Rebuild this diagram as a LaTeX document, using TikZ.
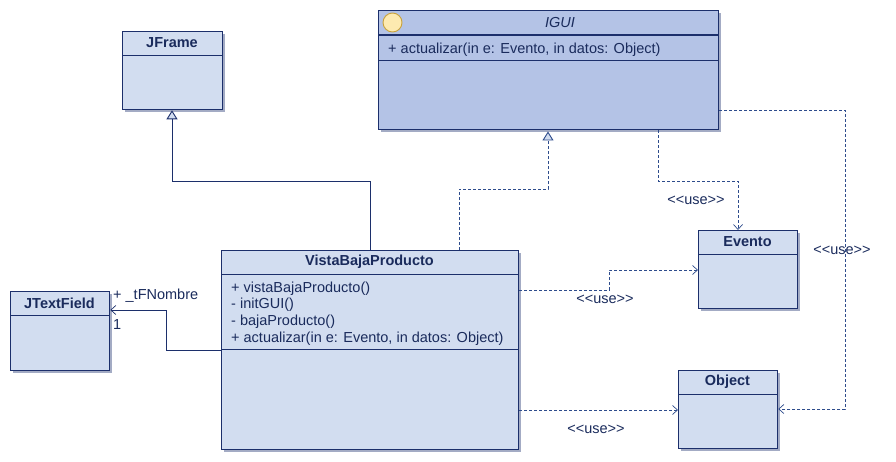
\documentclass[tikz,border=0pt]{standalone}
\usepackage{fontspec}
\setmainfont{Liberation Sans}
\usetikzlibrary{arrows.meta,calc,shadows}

\definecolor{boxfill}{HTML}{D2DDF0}
\definecolor{ifacefill}{HTML}{B4C3E6}
\definecolor{navy}{HTML}{1C2F6B}
\definecolor{txt}{HTML}{1A2B5C}
\definecolor{shade}{HTML}{A3ABC4}
\definecolor{dep}{HTML}{2E4C8C}
\definecolor{iconfill}{HTML}{FDEAB0}
\definecolor{iconline}{HTML}{C9A23C}

\newcommand{\umlfont}{\fontsize{14.5}{17}\selectfont}

\tikzset{
  classbox/.style={draw=navy, line width=1.3pt, fill=boxfill, rectangle,
    anchor=north west, inner sep=0pt,
    drop shadow={shadow xshift=2pt, shadow yshift=-2pt, fill=shade, opacity=1}},
  sep/.style={draw=navy, line width=0.9pt},
  title/.style={font=\umlfont\bfseries, text=txt, inner sep=0pt},
  member/.style={font=\umlfont, text=txt, inner sep=0pt, anchor=base west},
  lbl/.style={font=\umlfont, text=txt, inner sep=0pt},
  gen/.style={draw=navy, line width=0.9pt,
    -{Triangle[length=9pt, width=11pt, fill=boxfill, line width=0.9pt]}},
  real/.style={draw=dep, line width=0.9pt, dash pattern=on 3pt off 2pt,
    -{Triangle[length=9pt, width=11pt, fill=boxfill, line width=0.9pt, sep]}},
  assoc/.style={draw=navy, line width=0.9pt,
    -{Straight Barb[length=5pt, width=9pt, line width=0.7pt]}},
  use/.style={draw=dep, line width=0.9pt, dash pattern=on 3pt off 2pt,
    -{Straight Barb[length=5pt, width=9pt, line width=0.7pt]}},
}

\begin{document}
\begin{tikzpicture}[x=1pt, y=-1pt]
\useasboundingbox (0,0) rectangle (896,461);

% ---- classes ----
\node[classbox, fill=ifacefill, minimum width=340pt, minimum height=119pt] (igui) at (378,10) {};
\node[classbox, minimum width=100pt, minimum height=78pt] (jframe) at (122,31) {};
\node[classbox, minimum width=297pt, minimum height=199pt] (vbp) at (221,250) {};
\node[classbox, minimum width=99pt, minimum height=79pt] (jtf) at (10,291) {};
\node[classbox, minimum width=99pt, minimum height=78pt] (evento) at (698,230) {};
\node[classbox, minimum width=99pt, minimum height=78pt] (object) at (678,370) {};

% ---- compartments ----
\draw[sep, line width=2pt] ($(igui.north west)+(0,25)$) -- ($(igui.north east)+(0,25)$);
\draw[sep] ($(igui.north west)+(0,50)$) -- ($(igui.north east)+(0,50)$);
\draw[sep] ($(jframe.north west)+(0,24)$) -- ($(jframe.north east)+(0,24)$);
\draw[sep] ($(vbp.north west)+(0,24)$) -- ($(vbp.north east)+(0,24)$);
\draw[sep] ($(vbp.north west)+(0,99)$) -- ($(vbp.north east)+(0,99)$);
\draw[sep] ($(jtf.north west)+(0,24)$) -- ($(jtf.north east)+(0,24)$);
\draw[sep] ($(evento.north west)+(0,24)$) -- ($(evento.north east)+(0,24)$);
\draw[sep] ($(object.north west)+(0,24)$) -- ($(object.north east)+(0,24)$);

% interface icon
\node[circle, draw=iconline, fill=iconfill, line width=0.9pt, minimum size=19pt, inner sep=0pt] (icon) at (392.5,22.5) {};

% ---- titles ----
\node[title, font=\umlfont\itshape] (iguiT) at (560,22.5) {IGUI};
\node[title] (jframeT) at (172,43) {JFrame};
\node[title] (vbpT) at (369.5,262) {VistaBajaProducto};
\node[title] (jtfT) at (59.5,303) {JTextField};
\node[title] (eventoT) at (747.5,242) {Evento};
\node[title] (objectT) at (727.5,382) {Object};

% ---- members ----
\node[member] (iguiM) at (388,53) {+ actualizar(in e: Evento, in datos: Object)};
\node[member] (m1) at (231,292) {+ vistaBajaProducto()};
\node[member] (m2) at (231,308.7) {- initGUI()};
\node[member] (m3) at (231,325.3) {- bajaProducto()};
\node[member] (m4) at (231,342) {+ actualizar(in e: Evento, in datos: Object)};

% ---- relations ----
\draw[gen] ($(vbp.north west)+(149,0)$) -- ++(0,-69) -| ($(jframe.south west)+(50,0)$);
\draw[real] ($(vbp.north west)+(238,0)$) -- ++(0,-61) -| ($(igui.south west)+(170,0)$);
\draw[assoc] ($(vbp.north west)+(0,100)$) -- ++(-55,0) |- ($(jtf.north east)+(0,19)$);
\draw[use] ($(igui.south west)+(280,0)$) -- ++(0,51) -| ($(evento.north west)+(40,0)$);
\draw[use] ($(igui.north east)+(0,100)$) -- ++(126,0) |- ($(object.north east)+(0,39)$);
\draw[use] ($(vbp.north east)+(0,40)$) -- ++(90,0) |- ($(evento.north west)+(0,40)$);
\draw[use] ($(vbp.north east)+(0,160)$) -- ($(object.north west)+(0,40)$);

% ---- labels ----
\node[lbl, anchor=base west] (role) at (113,299) {+ \_tFNombre};
\node[lbl, anchor=base west] (mult) at (113,329) {1};
\node[lbl] (u1) at (696,200) {<{}<use>{}>};
\node[lbl] (u2) at (842,250) {<{}<use>{}>};
\node[lbl] (u3) at (605,299) {<{}<use>{}>};
\node[lbl] (u4) at (596,429) {<{}<use>{}>};
\end{tikzpicture}
\end{document}
